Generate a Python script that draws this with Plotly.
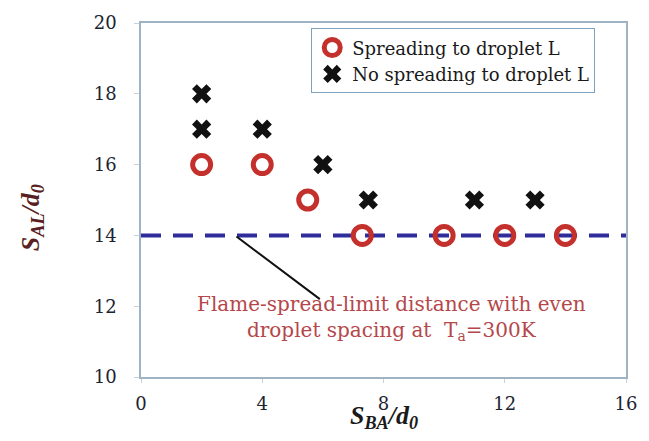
import plotly.graph_objects as go

# Droplet spacing data (S_BA/d0, S_AL/d0)
spread_x = [2, 4, 5.5, 7.3, 10, 12, 14]
spread_y = [16, 16, 15, 14, 14, 14, 14]
nospread_x = [2, 2, 4, 6, 7.5, 11, 13]
nospread_y = [18, 17, 17, 16, 15, 15, 15]

limit_x = [0, 16]
limit_y = [14, 14]

x_ticks = [0, 4, 8, 12, 16]
y_ticks = [10, 12, 14, 16, 18, 20]

serif = "DejaVu Serif, Liberation Serif, serif"
times = "Liberation Serif, Times New Roman, serif"

fig = go.Figure()

# flame-spread-limit line (even spacing)
fig.add_trace(go.Scatter(
    x=limit_x, y=limit_y, mode="lines", showlegend=False,
    line=dict(color="#2f2c9c", width=4, dash="20px,12px"),
    hoverinfo="skip",
))

fig.add_trace(go.Scatter(
    x=spread_x, y=spread_y, mode="markers", name="Spreading to droplet L",
    marker=dict(symbol="circle-open", size=18, color="#c4302b",
                line=dict(width=5, color="#c4302b")),
))

fig.add_trace(go.Scatter(
    x=nospread_x, y=nospread_y, mode="markers", name="No spreading to droplet L",
    marker=dict(symbol="x", size=17, color="#111111",
                line=dict(width=0)),
))

fig.update_layout(
    width=649, height=441,
    margin=dict(l=141, r=15, t=18, b=64),
    paper_bgcolor="white", plot_bgcolor="white",
    font=dict(family=serif, color="#222222"),
    showlegend=True,
    legend=dict(
        x=0.351, y=0.985, xanchor="left", yanchor="top",
        bgcolor="white", bordercolor="#7fa3bd", borderwidth=1,
        font=dict(family=serif, size=18, color="#1a1a1a"),
        itemwidth=30, tracegroupgap=0,
    ),
)

fig.update_xaxes(
    range=[0, 16], tickvals=x_ticks, showgrid=False, zeroline=False,
    showline=True, linecolor="#9fb3c2", linewidth=1.5, mirror=True,
    ticks="outside", ticklen=4, tickcolor="#c4d3de",
    tickfont=dict(family=serif, size=18, color="#1c2430"),
    ticklabelstandoff=6,
)
fig.update_yaxes(
    range=[10, 20], tickvals=y_ticks, showgrid=False, zeroline=False,
    showline=True, linecolor="#9fb3c2", linewidth=1.5, mirror=True,
    ticks="outside", ticklen=5, tickcolor="#c4d3de",
    tickfont=dict(family=serif, size=18, color="#1c2430"),
    ticklabelstandoff=14,
)

# pointer line to the limit line
fig.add_annotation(
    x=5.9, y=12.2, ax=3.1, ay=14, xref="x", yref="y", axref="x", ayref="y",
    text="", showarrow=True, arrowhead=0, arrowwidth=2, arrowcolor="#111111",
)

fig.add_annotation(
    x=8.25, y=11.66, xref="x", yref="y", showarrow=False,
    text="Flame-spread-limit distance with even<br>droplet spacing at  T<sub>a</sub>=300K",
    font=dict(family=serif, size=20, color="#b5474a"),
    align="center",
)

# axis titles
fig.add_annotation(
    x=0.5, y=-0.114, xref="paper", yref="paper", showarrow=False,
    xanchor="center", yanchor="middle",
    text="<b><i>S<sub>BA</sub>/d<sub>0</sub></i></b>",
    font=dict(family=times, size=26, color="#1a1a1a"),
)
fig.add_annotation(
    x=-0.225, y=0.451, xref="paper", yref="paper", showarrow=False,
    xanchor="center", yanchor="middle",
    text="<b><i>S<sub>AL</sub>/d<sub>0</sub></i></b>",
    textangle=-90,
    font=dict(family=times, size=26, color="#5a1f22"),
)

fig.write_html("out.html")
